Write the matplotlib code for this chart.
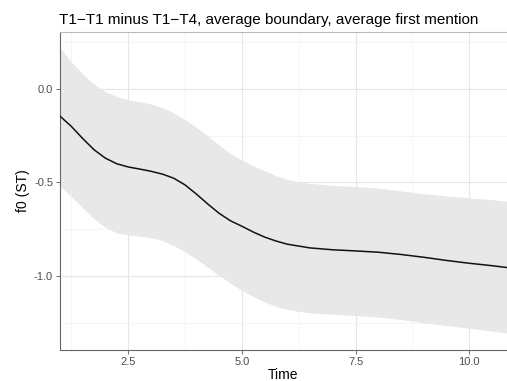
import numpy as np
import matplotlib
matplotlib.use("Agg")
import matplotlib.pyplot as plt
from matplotlib.ticker import FixedLocator, FormatStrFormatter

plt.rcParams['font.family'] = ['Liberation Sans', 'DejaVu Sans']

# values
time = [1.0, 1.25, 1.5, 1.75, 2.0, 2.25, 2.5, 2.75, 3.0, 3.25, 3.5, 3.75,
        4.0, 4.25, 4.5, 4.75, 5.0, 5.25, 5.5, 5.75, 6.0, 6.25, 6.5, 7.0, 7.5,
        8.0, 8.5, 9.0, 9.5, 10.0, 10.5, 10.83]
fit = [-0.145, -0.20, -0.265, -0.325, -0.37, -0.40, -0.417, -0.428, -0.44,
       -0.455, -0.477, -0.513, -0.562, -0.615, -0.665, -0.705, -0.734, -0.765,
       -0.792, -0.813, -0.83, -0.84, -0.85, -0.86, -0.866, -0.873, -0.885,
       -0.90, -0.917, -0.932, -0.945, -0.955]
upper = [0.22, 0.145, 0.08, 0.025, -0.015, -0.04, -0.058, -0.068, -0.08, -0.10,
         -0.128, -0.165, -0.205, -0.25, -0.30, -0.345, -0.38, -0.41, -0.437,
         -0.463, -0.483, -0.495, -0.505, -0.515, -0.522, -0.53, -0.545, -0.56,
         -0.572, -0.582, -0.592, -0.60]
lower = [-0.52, -0.575, -0.635, -0.695, -0.74, -0.77, -0.78, -0.787, -0.795,
         -0.81, -0.838, -0.87, -0.91, -0.953, -0.998, -1.04, -1.077, -1.11,
         -1.14, -1.162, -1.178, -1.19, -1.197, -1.205, -1.212, -1.22, -1.233,
         -1.25, -1.265, -1.28, -1.295, -1.305]

xticks = [2.5, 5.0, 7.5, 10.0]
yticks = [-1.0, -0.5, 0.0]

fig = plt.figure(figsize=(5.07, 3.81), dpi=100)
ax = fig.add_axes([60/507, 1 - 350/381, 1 - 60/507, (350 - 32)/381])

ax.fill_between(time, lower, upper, color='#e8e8e8', lw=0, zorder=1)
ax.plot(time, fit, color='#111111', lw=1.1, zorder=3, solid_joinstyle='round')

ax.set_xlim(1.0, 10.83)
ax.set_ylim(-1.396, 0.305)
ax.xaxis.set_major_locator(FixedLocator(xticks))
ax.yaxis.set_major_locator(FixedLocator(yticks))
ax.xaxis.set_minor_locator(FixedLocator([1.25, 3.75, 6.25, 8.75]))
ax.yaxis.set_minor_locator(FixedLocator([-1.25, -0.75, -0.25, 0.25]))
ax.xaxis.set_major_formatter(FormatStrFormatter('%.1f'))
ax.yaxis.set_major_formatter(FormatStrFormatter('%.1f'))

ax.grid(which='major', color='#e6e6e6', lw=0.8, zorder=0)
ax.grid(which='minor', color='#f2f2f2', lw=0.5, zorder=0)
ax.set_axisbelow(True)

ax.tick_params(which='major', length=3, width=0.6, color='#555555',
               labelsize=8, labelcolor='#4d4d4d', pad=2)
ax.tick_params(which='minor', length=0)

for s in ['left', 'bottom']:
    ax.spines[s].set_color('#666666')
    ax.spines[s].set_linewidth(0.8)
ax.spines['top'].set_color('#bbbbbb')
ax.spines['top'].set_linewidth(0.8)
ax.spines['right'].set_visible(False)

ax.set_xlabel('Time', fontsize=10, labelpad=1)
ax.set_ylabel('f0 (ST)', fontsize=10, labelpad=3)
ax.set_title('T1\u2212T1 minus T1\u2212T4, average boundary, average first mention',
             loc='left', fontsize=11, pad=6, x=-0.003)

fig.savefig('out.png', dpi=100)
